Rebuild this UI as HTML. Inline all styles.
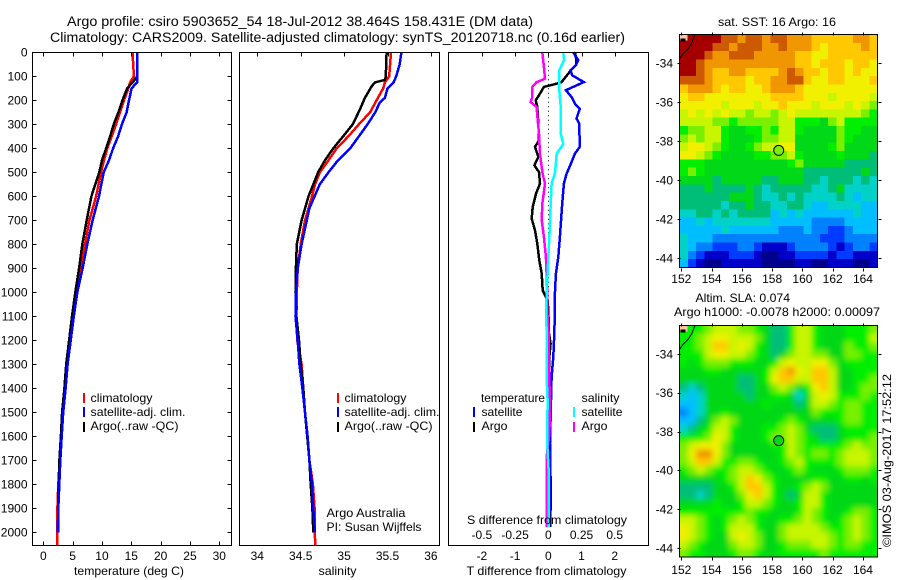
<!DOCTYPE html>
<html>
<head>
<meta charset="utf-8">
<title>Argo profile chart</title>
<style>
html,body{margin:0;padding:0;background:#fff;width:900px;height:580px;overflow:hidden}
svg{display:block}
text{font-family:"Liberation Sans",sans-serif;font-size:12px;fill:#000}
.frame{fill:none;stroke:#000;stroke-width:1;shape-rendering:crispEdges}
.tick{stroke:#000;stroke-width:1;shape-rendering:crispEdges}
.prof{fill:none;stroke-width:2.5;shape-rendering:crispEdges;stroke-linejoin:miter}
.key{stroke-width:2;shape-rendering:crispEdges}
</style>
</head>
<body>
<svg id="chart" xmlns="http://www.w3.org/2000/svg" width="900" height="580" viewBox="0 0 900 580">
<defs>
<clipPath id="clip-map-sla"><rect x="679.5" y="325.5" width="198" height="231.5"/></clipPath>
<filter id="smooth" filterUnits="userSpaceOnUse" x="640" y="290" width="280" height="300"><feGaussianBlur stdDeviation="2.8"/></filter>
</defs>

<text x="67" y="26" textLength="466" lengthAdjust="spacingAndGlyphs" font-size="14" style="font-size:13.5px">Argo profile: csiro 5903652_54 18-Jul-2012 38.464S 158.431E (DM data)</text>
<text x="50" y="42" textLength="575" lengthAdjust="spacingAndGlyphs" style="font-size:13.5px">Climatology: CARS2009. Satellite-adjusted climatology: synTS_20120718.nc (0.16d earlier)</text>

<g id="panel-temp"></g>
<g id="panel-sal"></g>
<g id="panel-diff"></g>
<g id="map-sst"></g>
<g id="map-sla"></g>

<rect class="frame" x="32.5" y="52.5" width="199" height="493"/>
<rect class="frame" x="239.5" y="52.5" width="200" height="493"/>
<rect class="frame" x="448.5" y="52.5" width="200" height="493"/>

<text x="129" y="575" text-anchor="middle" textLength="110" lengthAdjust="spacingAndGlyphs">temperature (deg C)</text>
<text x="337.5" y="575" text-anchor="middle" textLength="38" lengthAdjust="spacingAndGlyphs">salinity</text>
<text x="466.5" y="575" textLength="160" lengthAdjust="spacingAndGlyphs">T difference from climatology</text>
<text x="467" y="524" textLength="160" lengthAdjust="spacingAndGlyphs">S difference from climatology</text>

<g>
<line class="key" x1="84" x2="84" y1="393" y2="403" stroke="#ff0000"/>
<line class="key" x1="84" x2="84" y1="407" y2="417" stroke="#0000ff"/>
<line class="key" x1="84" x2="84" y1="422" y2="432" stroke="#000"/>
<text x="90.5" y="402" textLength="62" lengthAdjust="spacingAndGlyphs">climatology</text>
<text x="90.5" y="416" textLength="95" lengthAdjust="spacingAndGlyphs">satellite-adj. clim.</text>
<text x="90.5" y="430" textLength="88" lengthAdjust="spacingAndGlyphs">Argo(..raw -QC)</text>
</g>
<g>
<line class="key" x1="338" x2="338" y1="393" y2="403" stroke="#ff0000"/>
<line class="key" x1="338" x2="338" y1="407" y2="417" stroke="#0000ff"/>
<line class="key" x1="338" x2="338" y1="422" y2="432" stroke="#000"/>
<text x="344.5" y="402" textLength="62" lengthAdjust="spacingAndGlyphs">climatology</text>
<text x="344.5" y="416" textLength="95" lengthAdjust="spacingAndGlyphs">satellite-adj. clim.</text>
<text x="344.5" y="430" textLength="88" lengthAdjust="spacingAndGlyphs">Argo(..raw -QC)</text>
</g>
<text x="326.5" y="517" textLength="79" lengthAdjust="spacingAndGlyphs">Argo Australia</text>
<text x="326.5" y="531" textLength="95" lengthAdjust="spacingAndGlyphs">PI: Susan Wijffels</text>

<g>
<text x="481" y="402" textLength="64" lengthAdjust="spacingAndGlyphs">temperature</text>
<text x="581.5" y="402" textLength="38" lengthAdjust="spacingAndGlyphs">salinity</text>
<line class="key" x1="474" x2="474" y1="407" y2="417" stroke="#0000ff"/>
<line class="key" x1="474" x2="474" y1="422" y2="432" stroke="#000"/>
<line class="key" x1="574" x2="574" y1="407" y2="417" stroke="#00ffff"/>
<line class="key" x1="574" x2="574" y1="422" y2="432" stroke="#ff00ff"/>
<text x="481.5" y="416" textLength="41" lengthAdjust="spacingAndGlyphs">satellite</text>
<text x="481.5" y="430" textLength="26" lengthAdjust="spacingAndGlyphs">Argo</text>
<text x="581.5" y="416" textLength="41" lengthAdjust="spacingAndGlyphs">satellite</text>
<text x="581.5" y="430" textLength="26" lengthAdjust="spacingAndGlyphs">Argo</text>
</g>

<text x="777" y="26" text-anchor="middle" textLength="118" lengthAdjust="spacingAndGlyphs">sat. SST: 16 Argo: 16</text>
<text x="695.5" y="302" textLength="94.5" lengthAdjust="spacingAndGlyphs">Altim. SLA: 0.074</text>
<text x="674" y="316" textLength="206" lengthAdjust="spacingAndGlyphs">Argo h1000: -0.0078 h2000: 0.00097</text>
<text transform="translate(891,547) rotate(-90)" textLength="173" lengthAdjust="spacingAndGlyphs">©IMOS 03-Aug-2017 17:52:12</text>
</svg>

<script>
// ---------- depth axis ----------
const depthTicks = [0,100,200,300,400,500,600,700,800,900,1000,1100,1200,1300,1400,1500,1600,1700,1800,1900,2000];

// ---------- temperature panel ----------
const tempTicks = [0,5,10,15,20,25,30];
const tempClimDepth = [0,100,125,150,200,250,300,350,400,450,500,600,700,800,900,1000,1100,1200,1300,1400,1500,1600,1700,1800,1900,2000,2056];
const tempClim = [15.2,15.45,14.8,14.5,13.75,13.07,12.4,11.65,10.9,10.35,9.85,9,7.85,7.1,6.25,5.7,5,4.4,4,3.7,3.3,3,2.85,2.55,2.4,2.4,2.35];
const tempSatDepth = [0,100,125,150,200,250,300,350,400,450,500,600,700,800,900,1000,1100,1200,1300,1400,1500,1600,1700,1800,1900,2000];
const tempSat = [16,16,16,15.05,14.6,14.2,13.4,12.75,11.9,11.2,10.3,9.5,8.4,7.5,6.7,5.8,5.2,4.67,4.15,3.8,3.4,3.13,2.9,2.73,2.55,2.45];
const tempArgoDepth = [0,100,120,150,200,250,300,350,400,450,500,600,700,800,900,1000,1100,1200,1300,1400,1500,1600,1700,1800,1900,2000];
const tempArgo = [16,16,15.4,14.3,13.5,12.8,12,11.4,10.7,10,9.55,8.2,7.4,6.65,6.1,5.45,4.9,4.4,3.9,3.6,3.2,3,2.75,2.6,2.5,2.5];

// ---------- salinity panel ----------
const salTicks = [34,34.5,35,35.5,36];
const salTickLabels = ["34","34.5","35","35.5","36"];
const salClimDepth = [0,100,125,150,200,250,300,350,400,450,500,550,600,700,800,900,1000,1100,1200,1300,1400,1500,1600,1700,1800,1900,2000,2056];
const salClim = [35.54,35.52,35.47,35.45,35.375,35.3,35.17,35.05,34.915,34.82,34.72,34.665,34.63,34.55,34.5,34.465,34.455,34.45,34.46,34.51,34.53,34.55,34.575,34.6,34.64,34.66,34.66,34.67];
const salSatDepth = [0,50,100,125,150,190,210,250,300,350,400,450,500,550,600,650,700,800,900,1000,1100,1200,1300,1400,1500,1600,1700,1800,1900,2000];
const salSat = [35.66,35.64,35.6,35.57,35.5,35.47,35.41,35.36,35.27,35.17,35.07,34.93,34.82,34.72,34.66,34.6,34.57,34.51,34.465,34.445,34.44,34.465,34.485,34.52,34.55,34.58,34.6,34.63,34.645,34.665];
const salArgoDepth = [0,100,115,125,140,190,240,300,350,400,450,500,550,600,700,800,900,1000,1100,1200,1300,1400,1500,1600,1700,1800,1900,2000];
const salArgo = [35.49,35.48,35.47,35.36,35.32,35.24,35.18,35.1,34.99,34.875,34.78,34.7,34.645,34.59,34.51,34.455,34.445,34.44,34.45,34.48,34.5,34.53,34.55,34.575,34.6,34.615,34.635,34.645];

// ---------- difference panel ----------
const tDiffTicks = [-2,-1,0,1,2];
const tDiffLabels = ["-2","-1","0","1","2"];
const sDiffTicks = [-0.5,-0.25,0,0.25,0.5];
const sDiffLabels = ["-0.5","-0.25","0","0.25","0.5"];
const tDiffSatDepth = [0,33,54,75,96,124,158,186,214,235,276,297,394,422,464,506,547,631,769,853,922,1006,1075,1172,1269,1353,1450,1630,1769,1978];
const tDiffSat = [.75,.9,.83,.67,.72,1.07,.53,.7,.8,.95,.85,.93,.95,.8,.68,.55,.47,.42,.35,.3,.23,.2,.2,.18,.15,.1,.08,.05,.05,.03];
const sDiffSatDepth = [0,33,75,103,158,228,283,339,381,422,506,547,631,769,853,922,1006,1075,1172,1353,1450,1630,1769,1978];
const sDiffSat = [.113,.118,.083,.083,.083,.093,.093,.093,.113,.063,.05,.025,.018,.008,0,-.005,-.013,-.015,-.013,-.013,-.005,-.008,.005,.003];
const tDiffArgoDepth = [0,33,54,75,124,131,144,172,200,228,297,367,394,436,471,499,547,589,644,693,742,797,867,922,992,1033,1075,1172,1214,1269,1450,1589,1839,1978];
const tDiffArgo = [.8,.85,.83,.68,.4,.25,-.13,-.25,-.38,-.33,-.3,-.28,-.4,-.3,-.42,-.28,-.25,-.37,-.47,-.5,-.4,-.33,-.27,-.2,-.17,-.02,0,.02,.07,.03,.03,.03,.08,.05];
const sDiffArgoDepth = [0,61,110,124,144,186,207,228,283,339,422,506,547,631,700,769,853,922,1006,1075,1172,1311,1450,1589,1686,1867,1978];
const sDiffArgo = [-.045,-.033,-.025,-.088,-.12,-.12,-.133,-.088,-.08,-.07,-.063,-.043,-.025,-.045,-.05,-.033,-.018,-.013,-.008,-.008,.003,.005,.012,.008,-.013,-.013,-.013];

// ---------- maps ----------
const lonTicks = [152,154,156,158,160,162,164];
const latTicks = [-34,-36,-38,-40,-42,-44];
const profileLon = 158.431;
const profileLat = -38.464;
const coastLon = [151.87,152.13,152.46,152.68,152.9];
const coastLat = [-33.78,-33.49,-33.23,-32.97,-32.5];
const levelColors = ["#00008c","#0000c8","#003cff","#0082ff","#00beff","#00d2c8","#00be78","#00d818","#00ee00","#78f000","#c8f500","#f0f000","#ffc800","#f09600","#cd5a00","#a50000"];
const sstLevelAtProfile = 9;
const slaLevelAtProfile = 7;
const sstGrid = [
[15,15,15,15,15,14,14,13,14,14,13,14,14,13,13,13,12,12,12,12,12,13,13,12],
[15,15,15,15,14,14,13,14,14,14,13,13,14,13,13,13,12,11,12,12,12,12,13,12],
[15,15,15,14,13,13,14,14,14,13,13,13,13,13,12,12,11,11,12,12,12,12,12,12],
[15,15,14,13,13,13,13,13,13,13,13,13,13,13,12,12,11,12,12,12,11,12,12,11],
[15,15,14,13,12,12,13,13,12,12,12,12,13,14,13,12,12,11,12,12,11,12,11,11],
[14,14,14,13,12,12,12,12,11,12,12,13,13,14,14,12,11,11,12,12,11,11,11,12],
[12,13,13,13,12,11,12,12,11,11,12,13,13,13,12,11,11,11,11,11,11,11,11,11],
[11,12,12,11,11,11,11,11,11,11,11,12,12,12,12,11,11,11,10,11,11,11,11,10],
[11,11,11,11,11,10,11,11,11,10,11,11,12,11,11,11,10,11,11,11,10,11,10,9],
[10,11,10,11,10,11,10,10,9,10,10,9,10,11,10,10,10,10,10,10,10,10,9,8],
[10,10,10,10,9,9,8,9,9,9,9,9,10,10,8,8,8,7,9,10,8,8,8,8],
[8,9,9,10,10,8,7,7,8,8,9,8,10,10,8,7,7,7,7,9,8,8,7,7],
[9,10,9,10,10,8,7,7,7,8,9,9,10,10,7,7,7,7,7,9,8,7,7,7],
[10,11,11,10,9,8,7,7,8,9,10,10,11,11,7,7,7,7,8,9,7,7,7,7],
[11,11,10,9,8,7,7,7,7,8,8,9,9,10,8,7,7,7,7,8,7,7,7,6],
[8,8,8,7,7,7,7,7,7,7,7,7,7,8,9,7,7,7,7,7,6,6,6,6],
[8,9,8,7,7,7,7,7,7,7,7,7,7,7,7,6,6,6,6,6,6,6,7,6],
[7,7,7,7,6,7,7,7,7,7,6,6,7,7,7,6,6,5,6,6,6,5,6,5],
[6,6,6,7,6,6,6,6,7,6,5,6,6,6,6,6,5,5,6,7,5,5,5,5],
[6,6,6,6,6,6,7,7,7,6,5,5,6,5,6,5,5,5,5,6,5,4,5,5],
[6,6,6,6,6,5,6,6,7,6,6,5,5,6,6,5,4,4,5,5,5,5,4,4],
[5,5,6,6,5,6,5,6,6,6,6,4,5,4,5,4,4,4,4,4,4,5,4,4],
[4,4,5,4,5,5,5,5,5,5,5,4,4,4,4,4,3,3,3,3,4,4,4,4],
[4,4,4,4,4,5,4,4,4,4,4,4,3,3,3,4,3,3,2,2,3,4,4,4],
[5,4,4,4,3,3,3,3,3,3,3,3,3,3,3,3,3,2,2,2,3,3,3,3],
[5,4,3,3,2,2,2,3,3,2,1,1,1,2,3,3,3,3,2,1,2,3,3,2],
[5,3,2,1,1,1,2,2,2,1,0,0,1,1,2,2,2,2,1,2,2,1,1,1],
[4,2,1,0,0,1,1,1,1,1,0,0,0,0,1,1,0,0,1,1,1,0,0,1]
];
const slaGrid = [
[8,8,8,9,10,10,10,9,9,8,7,6,6,8,10,10,8,7,7,7,8,8,8,9],
[8,8,9,10,11,11,10,10,10,9,7,6,6,8,10,10,8,7,7,7,8,8,8,10],
[8,8,9,10,12,12,10,11,10,8,7,6,6,8,10,10,8,7,7,7,9,8,8,9],
[8,8,8,10,11,11,10,10,9,8,7,6,7,9,10,10,9,9,7,7,9,9,8,8],
[8,7,8,9,9,9,8,8,8,7,7,8,10,11,10,10,11,11,9,7,8,8,8,8],
[7,7,7,8,8,7,7,7,7,7,8,10,12,13,11,10,12,12,10,7,7,8,8,8],
[7,7,7,7,7,7,7,6,6,7,8,11,12,12,10,10,12,12,10,7,7,8,8,9],
[6,5,6,7,7,7,7,6,6,7,7,9,10,9,7,8,11,12,10,7,7,8,9,9],
[5,4,5,7,7,7,7,7,6,7,7,8,8,7,5,7,10,11,10,8,8,8,9,8],
[4,4,5,7,7,7,7,7,7,7,8,7,7,7,6,7,10,10,9,8,9,9,8,8],
[3,4,5,7,7,8,7,7,7,7,7,7,7,7,7,7,9,8,8,8,9,9,8,8],
[4,4,6,7,9,10,9,7,7,7,7,7,8,9,8,7,7,7,7,8,9,9,8,8],
[5,6,7,8,10,10,8,7,7,7,8,8,9,10,9,7,6,6,6,7,8,8,8,8],
[8,8,8,9,11,10,8,7,7,7,8,9,9,10,9,8,7,6,6,7,8,8,8,9],
[9,10,11,11,11,9,7,7,7,7,7,8,8,10,9,8,8,8,8,8,9,10,9,9],
[9,11,13,13,11,9,7,7,7,7,7,7,8,10,9,8,9,9,8,9,10,10,10,9],
[9,10,12,12,10,8,8,9,9,8,7,7,8,9,10,8,8,8,8,9,10,10,10,9],
[8,9,10,9,8,8,9,10,10,9,8,7,7,8,9,8,7,7,7,8,9,9,9,8],
[7,7,7,7,7,8,9,10,12,11,9,8,7,7,7,7,8,8,7,7,8,8,7,8],
[6,6,6,6,7,7,8,10,12,12,10,8,7,7,8,9,10,9,7,7,7,7,7,7],
[6,6,5,6,7,7,7,9,11,12,10,8,7,6,7,10,10,8,7,7,7,7,7,7],
[7,7,7,7,8,7,7,8,10,10,9,8,7,7,8,10,10,8,7,7,7,7,7,7],
[8,8,8,8,8,8,8,8,9,8,8,7,7,7,8,10,9,8,7,7,8,9,9,8],
[10,10,9,8,7,8,9,10,9,8,7,7,8,8,9,10,9,8,7,8,9,10,9,8],
[11,10,9,8,7,8,10,10,10,8,7,7,9,10,10,10,10,9,8,8,9,10,9,8],
[11,10,9,8,7,7,10,11,10,9,7,7,9,10,10,10,10,10,9,8,9,10,9,8],
[10,9,8,7,7,7,9,10,10,9,7,7,8,9,9,9,10,10,9,8,9,9,8,8],
[9,8,8,7,7,7,8,9,9,8,7,7,8,8,8,8,8,9,8,8,8,8,8,8]
];

// ---------- axis functions ----------
const NS = "http://www.w3.org/2000/svg";
const yDepth = d => 52.3 + d * 0.24;
const xTemp = t => 43.3 + t * 5.867;
const xSal = s => 257.3 + (s - 34) * 86.8;
const xTDiff = t => 548.3 + t * 33.2;
const xSDiff = s => 548.3 + s * 132.8;
const sstX = lon => 681.3 + (lon - 152) * 15.14;
const sstY = lat => 63.4 + (-34 - lat) * 19.5;
const slaX = lon => 681.3 + (lon - 152) * 15.14;
const slaY = lat => 354 + (-34 - lat) * 19.4;

function mk(parent, tag, attrs, txt) {
  const el = document.createElementNS(NS, tag);
  for (const k in attrs) el.setAttribute(k, attrs[k]);
  if (txt !== undefined) el.textContent = txt;
  parent.appendChild(el);
  return el;
}
function profile(parent, xs, depths, xFn, colour, name) {
  const pts = xs.map((v, i) => xFn(v).toFixed(1) + "," + yDepth(depths[i]).toFixed(1)).join(" ");
  const el = mk(parent, "polyline", {class: "prof", points: pts, stroke: colour});
  
  
}
function tickMark(parent, x1, y1, x2, y2, name) {
  const el = mk(parent, "line", {class: "tick", x1: Math.round(x1) + .5, y1: Math.round(y1) + .5, x2: Math.round(x2) + .5, y2: Math.round(y2) + .5});
  
  
}
function label(parent, x, y, anchor, txt, name) {
  const el = mk(parent, "text", {x: x, y: y, "text-anchor": anchor}, txt);
  
  
}

// ---------- temperature panel ----------
const pT = document.getElementById("panel-temp");
profile(pT, tempClim, tempClimDepth, xTemp, "#ff0000", "temperature-climatology-line");
profile(pT, tempArgo, tempArgoDepth, xTemp, "#000000", "temperature-argo-line");
profile(pT, tempSat, tempSatDepth, xTemp, "#0000ff", "temperature-satellite-line");
depthTicks.forEach(d => {
  tickMark(pT, 32, yDepth(d), 36, yDepth(d), "depth-tick-left");
  tickMark(pT, 227, yDepth(d), 231, yDepth(d), "depth-tick-right");
  label(pT, 27.5, yDepth(d) + 4.3, "end", String(d), "depth-tick-label");
});
tempTicks.forEach(t => {
  tickMark(pT, xTemp(t), 52, xTemp(t), 56, "temperature-tick-top");
  tickMark(pT, xTemp(t), 541, xTemp(t), 545, "temperature-tick-bottom");
  label(pT, xTemp(t), 560, "middle", String(t), "temperature-tick-label");
});

// ---------- salinity panel ----------
const pS = document.getElementById("panel-sal");
profile(pS, salClim, salClimDepth, xSal, "#ff0000", "salinity-climatology-line");
profile(pS, salArgo, salArgoDepth, xSal, "#000000", "salinity-argo-line");
profile(pS, salSat, salSatDepth, xSal, "#0000ff", "salinity-satellite-line");
salTicks.forEach((s, i) => {
  tickMark(pS, xSal(s), 52, xSal(s), 56, "salinity-tick-top");
  label(pS, xSal(s), 560, "middle", salTickLabels[i], "salinity-tick-label");
});

// ---------- difference panel ----------
const pD = document.getElementById("panel-diff");
const zero = mk(pD, "line", {x1: 548.5, x2: 548.5, y1: yDepth(0), y2: yDepth(1050), stroke: "#000", "stroke-width": 1, "stroke-dasharray": "1 3.5"});


profile(pD, tDiffArgo, tDiffArgoDepth, xTDiff, "#000000", "t-difference-argo-line");
profile(pD, tDiffSat, tDiffSatDepth, xTDiff, "#0000ff", "t-difference-satellite-line");
profile(pD, sDiffArgo, sDiffArgoDepth, xSDiff, "#ff00ff", "s-difference-argo-line");
profile(pD, sDiffSat, sDiffSatDepth, xSDiff, "#00ffff", "s-difference-satellite-line");
tDiffTicks.forEach((t, i) => {
  tickMark(pD, xTDiff(t), 52, xTDiff(t), 56, "t-difference-tick-top");
  label(pD, xTDiff(t), 560, "middle", tDiffLabels[i], "t-difference-tick-label");
});
sDiffTicks.forEach((s, i) => {
  label(pD, xSDiff(s), 539, "middle", sDiffLabels[i], "s-difference-tick-label");
});

// ---------- maps ----------
function drawMap(g, grid, x0, y0, w, h, xFn, yFn, profileLevel, labelY, blur, nameStem) {
  const rows = grid.length, cols = grid[0].length;
  const cw = w / cols, ch = h / rows;
  let holder = g;
  if (blur) {
    const outer = mk(g, "g", {"clip-path": "url(#clip-map-sla)"});
    holder = mk(outer, "g", {filter: "url(#smooth)"});
  }
  grid.forEach((row, r) => row.forEach((v, c) => {
    let x = x0 + c * cw, y = y0 + r * ch, ww = cw + .4, hh = ch + .4;
    if (blur) {
      if (c === 0) { x -= 14; ww += 14; }
      if (c === cols - 1) ww += 14;
      if (r === 0) { y -= 14; hh += 14; }
      if (r === rows - 1) hh += 14;
    }
    const cell = mk(holder, "rect", {x: x.toFixed(2), y: y.toFixed(2), width: ww.toFixed(2), height: hh.toFixed(2), fill: levelColors[v], "shape-rendering": "crispEdges"});
    
    
  }));
  const land = mk(g, "rect", {x: x0, y: y0, width: 8, height: 6, fill: "#fac8a8"});
  
  
  const islet = mk(g, "rect", {x: x0 + 1, y: y0 + 4, width: 5, height: 3, fill: "#000"});
  
  
  const coast = mk(g, "polyline", {points: coastLon.map((lo, i) => xFn(lo).toFixed(1) + "," + Math.max(y0, yFn(coastLat[i])).toFixed(1)).join(" "), fill: "none", stroke: "#000", "stroke-width": 1});
  
  
  const marker = mk(g, "circle", {cx: xFn(profileLon).toFixed(1), cy: yFn(profileLat).toFixed(1), r: 5, fill: levelColors[profileLevel], stroke: "#000", "stroke-width": 1});
  
  
  const frame = mk(g, "rect", {class: "frame", x: x0, y: y0, width: w, height: h});
  
  
  lonTicks.forEach(lo => {
    tickMark(g, xFn(lo), y0 - 3, xFn(lo), y0, nameStem + "-lon-tick-top");
    tickMark(g, xFn(lo), y0 + h, xFn(lo), y0 + h + 3, nameStem + "-lon-tick-bottom");
    label(g, xFn(lo), labelY, "middle", String(lo), nameStem + "-lon-label");
  });
  latTicks.forEach(la => {
    tickMark(g, x0 - 3, yFn(la), x0, yFn(la), nameStem + "-lat-tick-left");
    tickMark(g, x0 + w, yFn(la), x0 + w + 3, yFn(la), nameStem + "-lat-tick-right");
    label(g, x0 - 6.5, yFn(la) + 4.3, "end", String(la), nameStem + "-lat-label");
  });
}
drawMap(document.getElementById("map-sst"), sstGrid, 679.5, 34.5, 198, 233, sstX, sstY, sstLevelAtProfile, 283, false, "sst-map");
drawMap(document.getElementById("map-sla"), slaGrid, 679.5, 325.5, 198, 231.5, slaX, slaY, slaLevelAtProfile, 574, true, "sla-map");
</script>
</body>
</html>
